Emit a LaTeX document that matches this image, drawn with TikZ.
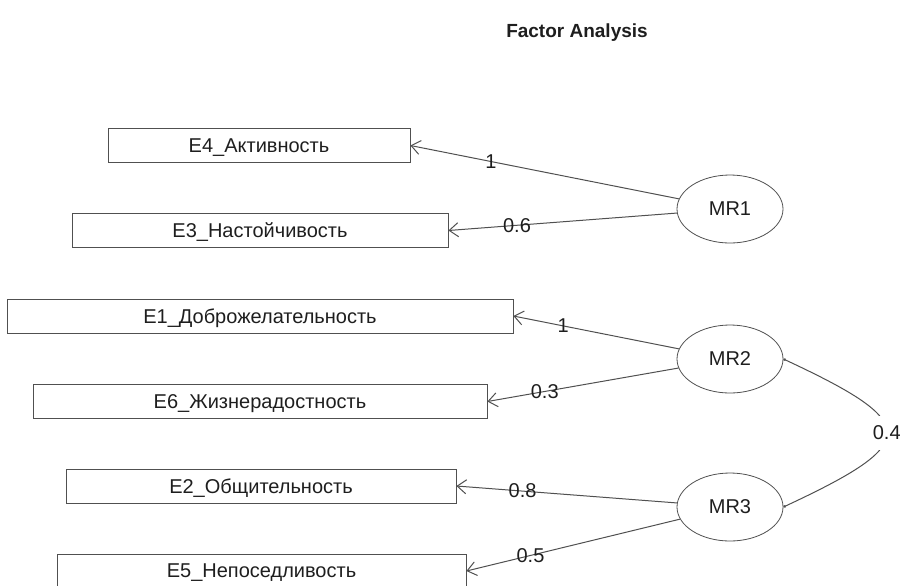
\documentclass[tikz,border=0pt]{standalone}
\usepackage{fontspec}
\setmainfont{Liberation Sans}
\definecolor{lineg}{RGB}{80, 80, 80}
\definecolor{textg}{RGB}{30, 30, 30}
\usetikzlibrary{shapes.geometric, arrows.meta}
\tikzset{
  obsbox/.style={draw=lineg, rectangle, minimum height=17pt, inner sep=0pt, text depth=0pt, text=textg, font=\fontsize{10}{11}\selectfont},
  factor/.style={draw=lineg, ellipse, minimum width=53pt, minimum height=34pt, inner sep=0pt, text=textg, font=\fontsize{10}{11}\selectfont},
  loading/.style={draw=lineg, line width=0.5pt, -{Straight Barb[length=4.5pt, width=7pt]}},
  loadlabel/.style={pos=0.7, inner sep=1pt, text=textg, font=\fontsize{10}{11}\selectfont},
}

\begin{document}
\begin{tikzpicture}[x=0.5pt, y=-0.5pt]
  \useasboundingbox (0,0) rectangle (900,585);

  % title
  \node[text=textg, font=\bfseries\fontsize{9.5}{11}\selectfont] (title) at (577,33) {Factor Analysis};

  % observed variables
  \node[obsbox, minimum width=151pt] (E4) at (259,145.5) {E4\_Активность};
  \node[obsbox, minimum width=188pt] (E3) at (260,230.5) {E3\_Настойчивость};
  \node[obsbox, minimum width=253pt] (E1) at (260,316) {E1\_Доброжелательность};
  \node[obsbox, minimum width=227pt] (E6) at (260,401.5) {E6\_Жизнерадостность};
  \node[obsbox, minimum width=195pt] (E2) at (261,486) {E2\_Общительность};
  \node[obsbox, minimum width=204.5pt] (E5) at (261.5,571) {E5\_Непоседливость};

  % factors
  \node[factor] (MR1) at (730,209) {MR1};
  \node[factor] (MR2) at (730,359) {MR2};
  \node[factor] (MR3) at (730,507) {MR3};

  % loadings
  \draw[loading] (MR1) -- (E4.east) node[loadlabel] {1};
  \draw[loading] (MR1) -- (E3.east) node[loadlabel] {0.6};
  \draw[loading] (MR2) -- (E1.east) node[loadlabel] {1};
  \draw[loading] (MR2) -- (E6.east) node[loadlabel] {0.3};
  \draw[loading] (MR3) -- (E2.east) node[loadlabel] {0.8};
  \draw[loading] (MR3) -- (E5.east) node[loadlabel] {0.5};

  % factor correlation
  \draw[draw=lineg, line width=0.5pt, {Circle[length=1.3pt]}-{Circle[length=1.3pt]}]
    (MR2.east) .. controls +(25:152) and +(-25:152) .. (MR3.east)
    node[midway, fill=white, inner sep=5pt, text=textg, font=\fontsize{10}{11}\selectfont] {0.4};
\end{tikzpicture}
\end{document}
